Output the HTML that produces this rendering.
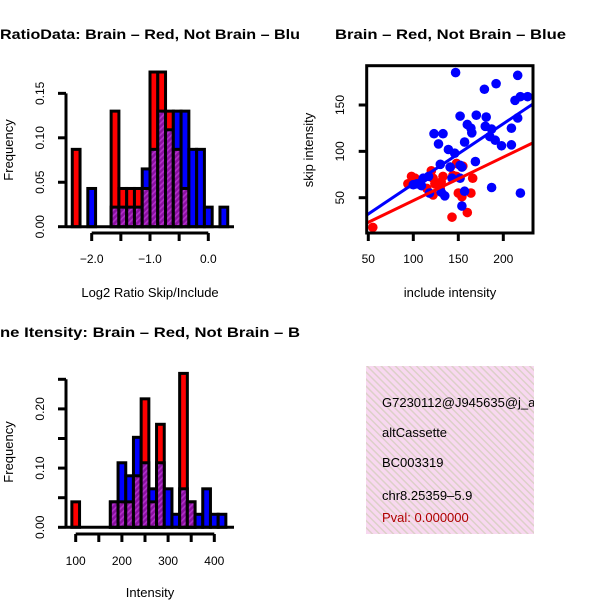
<!DOCTYPE html>
<html><head><meta charset="utf-8"><style>
html,body{margin:0;padding:0;background:#fff;}
svg{display:block;font-family:"Liberation Sans",sans-serif;}
</style></head><body>
<svg id="c" width="600" height="600" viewBox="0 0 600 600" xmlns="http://www.w3.org/2000/svg">
<defs>
<pattern id="purp" width="4" height="4" patternUnits="userSpaceOnUse" patternTransform="rotate(45)">
<rect width="4" height="4" fill="#8a10a0"/><rect width="1.6" height="4" fill="#b030c8"/>
</pattern>
<pattern id="pink" width="5" height="5" patternUnits="userSpaceOnUse" patternTransform="rotate(-45)">
<rect width="5" height="5" fill="#f8d8f0"/><rect width="1.5" height="5" fill="#dcd0c8"/>
</pattern>
<clipPath id="clipL"><rect x="0" y="0" width="300" height="600"/></clipPath>
<clipPath id="clipBox"><rect x="366" y="366" width="168" height="168"/></clipPath>
</defs>
<g id="g1"></g>
<g id="g2"></g>
<g id="g3"></g>
<g>
<rect x="366" y="366" width="168" height="168" fill="url(#pink)"/>
<g clip-path="url(#clipBox)" font-size="13">
<text x="382" y="407">G7230112@J945635@j_at</text>
<text x="382" y="437">altCassette</text>
<text x="382" y="467">BC003319</text>
<text x="382" y="500">chr8.25359–5.9</text>
<text x="382" y="522" fill="#b00000">Pval: 0.000000</text>
</g>
</g>
</svg>
<script>
// ---- Histogram 1 (Log2 ratio) ----
const h1Start = -2.3333, h1Width = 0.13333;
const h1Red  = [0.087,0,0,0,0,0.13,0.043,0.043,0.043,0.043,0.174,0.174,0.13,0.087,0.043,0,0,0,0,0];
const h1Blue = [0,0,0.043,0,0,0.022,0.022,0.022,0.022,0.065,0.087,0.13,0.109,0.13,0.13,0.087,0.087,0.022,0,0.022];
const h1XTicks = [-2.0,-1.5,-1.0,-0.5,0.0];
const h1XLabels = ["−2.0","−1.0","0.0"];
const h1XLabelVals = [-2.0,-1.0,0.0];
const h1YTicks = [0,0.05,0.10,0.15];
const h1YLabels = ["0.00","0.05","0.10","0.15"];
// ---- Histogram 2 (Intensity) ----
const h2Start = 91.67, h2Width = 16.667;
const h2Red  = [0.043,0,0,0,0,0.043,0.043,0.043,0.087,0.217,0.043,0.174,0,0,0.26,0.043,0,0,0,0];
const h2Blue = [0,0,0,0,0,0.043,0.109,0.087,0.152,0.109,0.065,0.109,0.065,0.022,0.065,0.043,0.022,0.065,0.022,0.022];
const h2XTicks = [100,150,200,250,300,350,400];
const h2XLabels = ["100","200","300","400"];
const h2XLabelVals = [100,200,300,400];
const h2YTicks = [0,0.05,0.10,0.15,0.20,0.25];
const h2YLabels = ["0.00","0.10","0.20"];
const h2YLabelVals = [0,0.10,0.20];
// ---- Scatter ----
const blueX = [147,216,192,179,213,219,227,152,170,181,160,164,165,123,133,180,187,209,216,128,157,139,146,185,191,198,209,169,130,141,152,154,104,111,117,109,152,143,118,131,135,157,187,219,154,100];
const blueY = [185,182,173,167,155,159,159,138,139,137,129,125,120,119,119,127,124,125,136,108,110,102,98,116,112,106,107,89,86,83,85,83,65,71,73,63,71,71,55,56,52,57,61,55,41,64];
const redX = [55,143,160,98,102,94,120,122,133,131,141,148,155,166,150,154,164,122,124,130,115,144,148];
const redY = [18,29,34,73,71,65,79,71,73,67,83,87,84,71,55,51,55,53,65,60,60,74,73];
const scXTicks = [50,100,150,200];
const scYTicks = [50,100,150];

const NS="http://www.w3.org/2000/svg";
function mk(parent,tag,attrs,text){const e=document.createElementNS(NS,tag);for(const k in attrs)e.setAttribute(k,attrs[k]);if(text!==undefined)e.textContent=text;parent.appendChild(e);return e;}

function hist(g,start,width,red,blue,sx,sy,baseY){
  for(let i=0;i<red.length;i++){
    const x0=sx(start+i*width), x1=sx(start+(i+1)*width);
    const r=red[i], b=blue[i];
    const hi=Math.max(r,b), lo=Math.min(r,b);
    if(hi>0){
      const e=mk(g,'rect',{x:x0,y:sy(hi),width:x1-x0,height:baseY-sy(hi),fill:r>=b?'#ff0000':'#0000ff',stroke:'#000','stroke-width':3});
      
      
    }
    if(lo>0){
      const e=mk(g,'rect',{x:x0,y:sy(lo),width:x1-x0,height:baseY-sy(lo),fill:'url(#purp)',stroke:'#000','stroke-width':3});
      
      
    }
  }
}
function vtext(g,x,y,t,size,name){
  const e=mk(g,'text',{x:0,y:0,transform:`translate(${x},${y}) rotate(-90)`,'text-anchor':'middle','font-size':size},t);
  
  
  return e;
}

// Histogram 1
(function(){
  const g=document.getElementById('g1');
  const sx=v=>91.7+(v+2)*58.3;
  const sy=v=>226.7-v*889;
  const base=sy(0);
  hist(g,h1Start,h1Width,h1Red,h1Blue,sx,sy,base);
  let e=mk(g,'line',{x1:66,y1:base,x2:234,y2:base,stroke:'#000','stroke-width':3});
  
  e=mk(g,'line',{x1:sx(h1XTicks[0]),y1:233,x2:sx(h1XTicks[h1XTicks.length-1]),y2:233,stroke:'#000','stroke-width':3});
  
  h1XTicks.forEach(v=>{const t=mk(g,'line',{x1:sx(v),y1:233,x2:sx(v),y2:241,stroke:'#000','stroke-width':3});});
  h1XLabelVals.forEach((v,i)=>{const t=mk(g,'text',{x:sx(v),y:263,'text-anchor':'middle','font-size':12},h1XLabels[i]);});
  e=mk(g,'line',{x1:66,y1:sy(h1YTicks[0]),x2:66,y2:sy(h1YTicks[h1YTicks.length-1]),stroke:'#000','stroke-width':3});
  
  h1YTicks.forEach((v,i)=>{const t=mk(g,'line',{x1:58,y1:sy(v),x2:66,y2:sy(v),stroke:'#000','stroke-width':3});
    vtext(g,44,sy(v),h1YLabels[i],12,'y-tick-label');});
  vtext(g,13,150,'Frequency',13,'y-axis-title');
  const tl=mk(g,'text',{x:0,y:39,'font-size':14,'font-weight':'bold','clip-path':'url(#clipL)',textLength:300,lengthAdjust:'spacingAndGlyphs'},'RatioData: Brain – Red, Not Brain – Blu');
  
  const xl=mk(g,'text',{x:150,y:297,'text-anchor':'middle','font-size':13},'Log2 Ratio Skip/Include');
  
})();

// Histogram 2
(function(){
  const g=document.getElementById('g3');
  const sx=v=>75.7+(v-100)*0.462;
  const sy=v=>527.3-v*592;
  const base=sy(0);
  hist(g,h2Start,h2Width,h2Red,h2Blue,sx,sy,base);
  let e=mk(g,'line',{x1:66,y1:base,x2:234,y2:base,stroke:'#000','stroke-width':3});
  
  e=mk(g,'line',{x1:sx(h2XTicks[0]),y1:534,x2:sx(h2XTicks[h2XTicks.length-1]),y2:534,stroke:'#000','stroke-width':3});
  
  h2XTicks.forEach(v=>{const t=mk(g,'line',{x1:sx(v),y1:534,x2:sx(v),y2:542,stroke:'#000','stroke-width':3});});
  h2XLabelVals.forEach((v,i)=>{const t=mk(g,'text',{x:sx(v),y:565,'text-anchor':'middle','font-size':12},h2XLabels[i]);});
  e=mk(g,'line',{x1:66,y1:sy(h2YTicks[0]),x2:66,y2:sy(h2YTicks[h2YTicks.length-1]),stroke:'#000','stroke-width':3});
  
  h2YTicks.forEach(v=>{const t=mk(g,'line',{x1:58,y1:sy(v),x2:66,y2:sy(v),stroke:'#000','stroke-width':3});});
  h2YLabelVals.forEach((v,i)=>vtext(g,44,sy(v),h2YLabels[i],12,'y-tick-label'));
  vtext(g,13,452,'Frequency',13,'y-axis-title');
  const tl=mk(g,'text',{x:0,y:337,'font-size':14,'font-weight':'bold','clip-path':'url(#clipL)',textLength:300,lengthAdjust:'spacingAndGlyphs'},'ne Itensity: Brain – Red, Not Brain – B');
  
  const xl=mk(g,'text',{x:150,y:597,'text-anchor':'middle','font-size':13},'Intensity');
  
})();

// Scatter
(function(){
  const g=document.getElementById('g2');
  const sx=v=>368.3+(v-50)*0.9;
  const sy=v=>197.7-(v-50)*0.927;
  const L=366.7,R=533,T=65.7,B=233;
  const cp=mk(document.querySelector('defs'),'clipPath',{id:'clipSc'});
  mk(cp,'rect',{x:L,y:T,width:R-L,height:B-T});
  const pg=mk(g,'g',{'clip-path':'url(#clipSc)'});
  
  // regression through origin
  function fit(xs,ys){let sxy=0,sxx=0;for(let i=0;i<xs.length;i++){sxy+=xs[i]*ys[i];sxx+=xs[i]*xs[i];}return [0,sxy/sxx];}
  function pts(xs,ys,col,name){xs.forEach((x,i)=>{const c=mk(pg,'circle',{cx:sx(x),cy:sy(ys[i]),r:4.8,fill:col});});}
  function line(xs,ys,col,name){const [a,b]=fit(xs,ys);const x0=40,x1=240;const l=mk(pg,'line',{x1:sx(x0),y1:sy(a+b*x0),x2:sx(x1),y2:sy(a+b*x1),stroke:col,'stroke-width':3});}
  pts(redX,redY,'#ff0000','point-red');
  pts(blueX,blueY,'#0000ff','point-blue');
  line(blueX,blueY,'#0000ff','fit-line-blue');
  line(redX,redY,'#ff0000','fit-line-red');
  let e=mk(g,'rect',{x:L,y:T,width:R-L,height:B-T,fill:'none',stroke:'#000','stroke-width':3});
  
  scXTicks.forEach(v=>{const t=mk(g,'line',{x1:sx(v),y1:B,x2:sx(v),y2:B+8,stroke:'#000','stroke-width':3});
    const l=mk(g,'text',{x:sx(v),y:263,'text-anchor':'middle','font-size':12},String(v));});
  scYTicks.forEach(v=>{const t=mk(g,'line',{x1:L-8,y1:sy(v),x2:L,y2:sy(v),stroke:'#000','stroke-width':3});
    vtext(g,344,sy(v),String(v),12,'y-tick-label');});
  vtext(g,313,150,'skip intensity',13,'y-axis-title');
  const tl=mk(g,'text',{x:335,y:39,'font-size':14,'font-weight':'bold',textLength:231,lengthAdjust:'spacingAndGlyphs'},'Brain – Red, Not Brain – Blue');
  
  const xl=mk(g,'text',{x:450,y:297,'text-anchor':'middle','font-size':13},'include intensity');
  
})();
</script>
</body></html>
